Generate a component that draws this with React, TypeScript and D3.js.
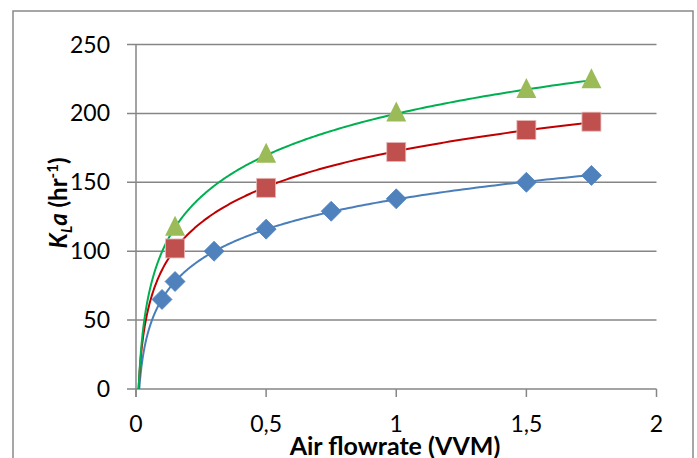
import React from "react";
import * as d3 from "d3";

const xBlue = [0.1, 0.15, 0.3, 0.5, 0.75, 1, 1.5, 1.75];
const yBlue = [65, 78, 100, 116, 129, 138, 150, 155];
const xRed = [0.15, 0.5, 1, 1.5, 1.75];
const yRed = [102, 146, 172, 188, 194];
const xGreen = [0.15, 0.5, 1, 1.5, 1.75];
const yGreen = [117, 170, 200, 217, 224];
const xTicks = [0, 0.5, 1, 1.5, 2];
const xTickLabels = ["0", "0,5", "1", "1,5", "2"];
const yTicks = [0, 50, 100, 150, 200, 250];

const W = 697;
const H = 458;
const FONT = "Lato, 'Open Sans', sans-serif";

function logFit(xs: number[], ys: number[]) {
  const lx = xs.map((v) => Math.log(v));
  const mx = d3.mean(lx)!;
  const my = d3.mean(ys)!;
  let num = 0;
  let den = 0;
  lx.forEach((v, i) => {
    num += (v - mx) * (ys[i] - my);
    den += (v - mx) * (v - mx);
  });
  const a = num / den;
  const b = my - a * mx;
  return (x: number) => a * Math.log(x) + b;
}

export default function App() {
  const x = d3.scaleLinear().domain([0, 2]).range([136, 656.5]);
  const y = d3.scaleLinear().domain([0, 250]).range([389, 44.5]);
  const grid = "#868686";

  const series = [
    { xs: xBlue, ys: yBlue, fill: "#4F81BD", line: "#4A7EBB", shape: "diamond" },
    { xs: xRed, ys: yRed, fill: "#C0504D", line: "#C00000", shape: "square" },
    { xs: xGreen, ys: yGreen, fill: "#9BBB59", line: "#00B050", shape: "triangle" },
  ];

  const sampleXs = d3.range(0, 1, 0.002).map((t) => 0.001 * Math.pow(1750, t)).concat([1.75]);

  const line = d3
    .line<[number, number]>()
    .x((d) => x(d[0]))
    .y((d) => y(d[1]));

  const marker = (shape: string, cx: number, cy: number, fill: string, key: string) => {
    if (shape === "diamond") {
      const r = 10;
      return (
        <path
          key={key}
          d={`M${cx},${cy - r}L${cx + r},${cy}L${cx},${cy + r}L${cx - r},${cy}Z`}
          fill={fill}
          stroke={fill}
          strokeWidth={0.8}
          strokeLinejoin="round"
        />
      );
    }
    if (shape === "square") {
      const s = 19;
      return (
        <rect
          key={key}
          x={cx - s / 2}
          y={cy - s / 2}
          width={s}
          height={s}
          fill={fill}
          stroke="#E6B9B8"
          strokeWidth={0.8}
        />
      );
    }
    const h = 20;
    const w = 20;
    return (
      <path
        key={key}
        d={`M${cx},${cy - h * 0.6}L${cx + w / 2},${cy + h * 0.4}L${cx - w / 2},${cy + h * 0.4}Z`}
        fill={fill}
      />
    );
  };

  return (
    <svg
      width={W}
      height={H}
      style={{ position: "absolute", left: 0, top: 0, background: "#fff" }}
      fontFamily={FONT}
    >
      <defs>
        <clipPath id="plotclip">
          <rect x={x(0)} y={y(250)} width={x(2) - x(0)} height={y(0) - y(250)} />
        </clipPath>
      </defs>
      <rect x={13} y={11} width={680} height={470} fill="#fff" stroke="#898989" strokeWidth={1.5} />

      {yTicks.map((t) => (
        <g key={"gy" + t}>
          <line x1={127} x2={x(2)} y1={y(t)} y2={y(t)} stroke={grid} strokeWidth={1.5} />
          <text x={110} y={y(t)} dy="0.35em" textAnchor="end" fontSize={23} fill="#000">
            {t}
          </text>
        </g>
      ))}
      <line x1={x(0)} x2={x(0)} y1={y(250)} y2={y(0) + 8} stroke={grid} strokeWidth={1.5} />
      {xTicks.map((t, i) => (
        <g key={"gx" + t}>
          <line x1={x(t)} x2={x(t)} y1={y(0)} y2={y(0) + 8} stroke={grid} strokeWidth={1.5} />
          <text x={x(t)} y={432} textAnchor="middle" fontSize={23} fill="#000">
            {xTickLabels[i]}
          </text>
        </g>
      ))}

      <g clipPath="url(#plotclip)">
        {series.map((s, i) => {
          const f = logFit(s.xs, s.ys);
          const pts: [number, number][] = sampleXs.map((v) => [v, f(v)]);
          return <path key={"l" + i} d={line(pts) || ""} fill="none" stroke={s.line} strokeWidth={2} />;
        })}
      </g>

      {series.map((s, i) =>
        s.xs.map((v, j) => marker(s.shape, x(v), y(s.ys[j]), s.fill, `m${i}-${j}`))
      )}

      <text x={395} y={455} textAnchor="middle" fontSize={25} fontWeight="bold" fill="#000">
        Air flowrate (VVM)
      </text>

      <text
        transform="translate(67,203) rotate(-90)"
        textAnchor="middle"
        fontSize={24}
        fontWeight="bold"
        fill="#000"
      >
        <tspan fontStyle="italic">K</tspan>
        <tspan fontStyle="italic" fontSize={15} dy={5}>L</tspan>
        <tspan fontStyle="italic" dy={-5}>a</tspan>
        <tspan> (hr</tspan>
        <tspan fontSize={15} dy={-9}>-1</tspan>
        <tspan dy={9}>)</tspan>
      </text>
    </svg>
  );
}
